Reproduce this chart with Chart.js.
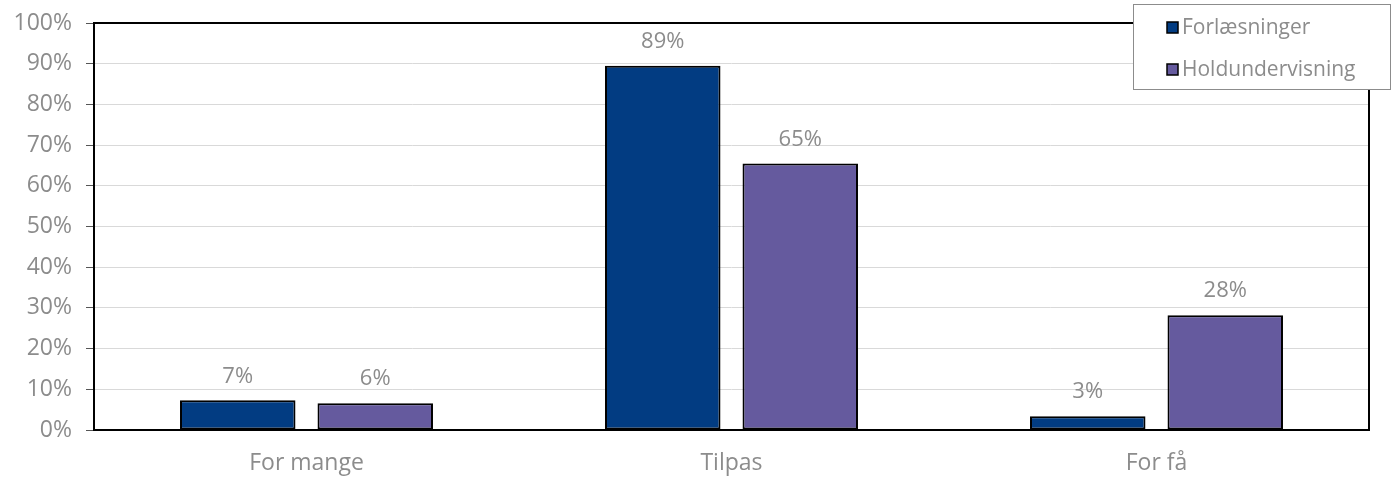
<!DOCTYPE html>
<html>
<head>
<meta charset="utf-8">
<script src="https://cdn.jsdelivr.net/npm/chart.js@4"></script>
<style>
  html, body { margin: 0; padding: 0; background: #fff; }
  #wrap { width: 1394px; height: 479px; }
</style>
</head>
<body>
<div id="wrap"><canvas id="chart"></canvas></div>
<script>
var categories = ["For mange", "Tilpas", "For få"];
var seriesNames = ["Forlæsninger", "Holdundervisning"];
var forlaesninger = [7.3, 89.5, 3.4];
var holdundervisning = [6.6, 65.5, 28.2];
var valueLabels = [["7%", "89%", "3%"], ["6%", "65%", "28%"]];

var FONT = "'Open Sans', sans-serif";
var GRAY = '#8c8c8c';

// draws the % text above each bar
var barLabels = {
    id: 'barLabels',
    afterDatasetsDraw: function(chart) {
        var ctx = chart.ctx;
        ctx.save();
        ctx.font = '22px ' + FONT;
        ctx.fillStyle = GRAY;
        ctx.textAlign = 'center';
        ctx.textBaseline = 'middle';
        chart.data.datasets.forEach(function(ds, i) {
            chart.getDatasetMeta(i).data.forEach(function(bar, j) {
                ctx.fillText(valueLabels[i][j], bar.x, bar.y - 24);
            });
        });
        ctx.restore();
    }
};

// black frame round the plot area + legend box
var frameAndLegend = {
    id: 'frameAndLegend',
    afterDraw: function(chart) {
        var ctx = chart.ctx, a = chart.chartArea;
        ctx.save();
        ctx.strokeStyle = '#000';
        ctx.lineWidth = 2;
        ctx.strokeRect(a.left, a.top, a.right - a.left, a.bottom - a.top);

        // legend
        var lx = 1133.5, ly = 4.5, lw = 257, lh = 85;
        ctx.fillStyle = '#fff';
        ctx.fillRect(lx, ly, lw, lh);
        ctx.strokeStyle = '#8c8c8c';
        ctx.lineWidth = 1;
        ctx.strokeRect(lx, ly, lw, lh);
        ctx.font = '21px ' + FONT;
        ctx.textBaseline = 'middle';
        ctx.textAlign = 'left';
        chart.data.datasets.forEach(function(ds, i) {
            var cy = 28 + i * 42;
            ctx.fillStyle = ds.backgroundColor;
            ctx.fillRect(1167, cy - 6, 11, 11);
            ctx.strokeStyle = '#000';
            ctx.lineWidth = 1.5;
            ctx.strokeRect(1167, cy - 6, 11, 11);
            ctx.fillStyle = GRAY;
            ctx.fillText(ds.label, 1182, cy);
        });
        ctx.restore();
    }
};

var ctx = document.getElementById('chart').getContext('2d');
var chart = new Chart(ctx, {
    type: 'bar',
    data: {
        labels: categories,
        datasets: [
            {
                label: seriesNames[0],
                data: forlaesninger,
                backgroundColor: '#023c82',
                borderColor: '#000',
                borderWidth: 2,
                borderSkipped: false,
                categoryPercentage: 0.647,
                barPercentage: 0.84
            },
            {
                label: seriesNames[1],
                data: holdundervisning,
                backgroundColor: '#655a9e',
                borderColor: '#000',
                borderWidth: 2,
                borderSkipped: false,
                categoryPercentage: 0.647,
                barPercentage: 0.84
            }
        ]
    },
    options: {
        responsive: true,
        maintainAspectRatio: false,
        animation: false,
        layout: { padding: { top: 23, right: 25, left: 0, bottom: 0 } },
        plugins: {
            legend: { display: false },
            tooltip: { enabled: false }
        },
        scales: {
            x: {
                grid: { display: false, drawTicks: false },
                border: { display: false },
                ticks: { color: GRAY, font: { family: FONT, size: 23 }, padding: 20 },
                afterFit: function(s) { s.height = 49; s.paddingLeft = 0; s.paddingRight = 0; }
            },
            y: {
                min: 0,
                max: 100,
                ticks: {
                    stepSize: 10,
                    color: GRAY,
                    font: { family: FONT, size: 23 },
                    padding: 14,
                    callback: function(v) { return v + '%'; }
                },
                grid: { color: '#d9d9d9', lineWidth: 1, tickColor: '#555', tickLength: 8 },
                border: { display: false },
                afterFit: function(s) { s.width = 94; s.paddingTop = 0; s.paddingBottom = 0; }
            }
        }
    },
    plugins: [barLabels, frameAndLegend]
});
</script>
</body>
</html>
